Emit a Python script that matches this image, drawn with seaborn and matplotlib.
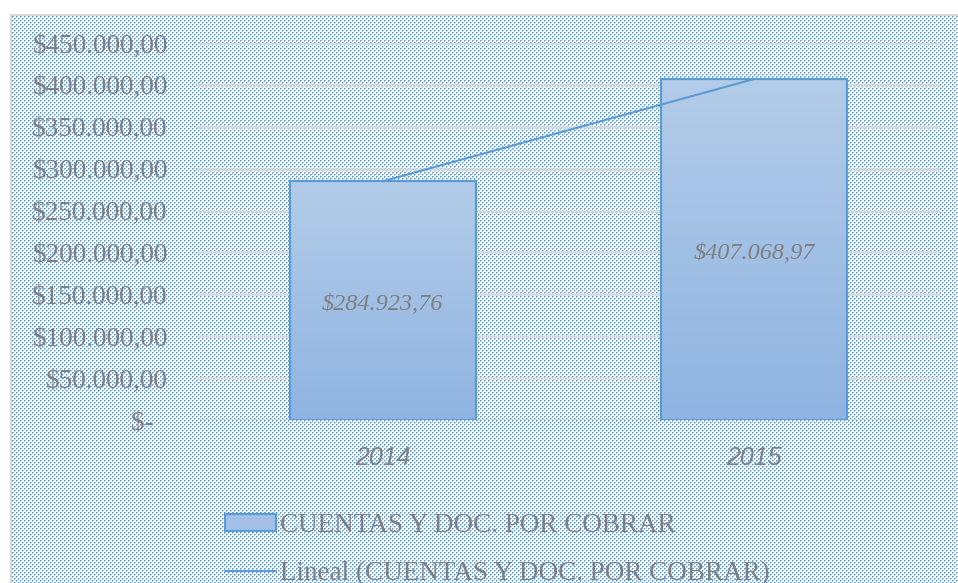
import numpy as np
import pandas as pd
import matplotlib
matplotlib.use('Agg')
import matplotlib.pyplot as plt
import seaborn as sns
from matplotlib.patches import Patch
from matplotlib.lines import Line2D
from matplotlib.colors import LinearSegmentedColormap

# datos
years = ['2014', '2015']
cuentas = [284923.76, 407068.97]
serie = 'CUENTAS Y DOC. POR COBRAR'
tendencia = 'Lineal (CUENTAS Y DOC. POR COBRAR)'
yticks = [0, 50000, 100000, 150000, 200000, 250000, 300000, 350000, 400000, 450000]

df = pd.DataFrame({'Año': years, 'Valor': cuentas})

sns.set_theme(style='white')
plt.rcParams['font.family'] = ['Liberation Serif', 'DejaVu Serif']

gris = '#7f7f7f'
azul_hex = '#5b9bd5'

W, H = 958, 583
fig = plt.figure(figsize=(W / 100, H / 100), dpi=100)
fig.patch.set_facecolor('white')

# fondo punteado (trama)
tile = np.ones((4, 4, 3))
azul = np.array([0x5b, 0x9b, 0xd5]) / 255
claro = np.array([0x9c, 0xc2, 0xe6]) / 255
tile[0, 0] = azul
tile[0, 1] = claro
tile[1, 0] = claro
tile[2, 2] = azul
tile[2, 3] = claro
tile[3, 2] = claro
fondo = np.tile(tile, ((H - 14) // 4 + 1, (W - 10) // 4 + 1, 1))[:H - 14, :W - 10]
fondo[0:2, :] = 0.85
fondo[:, 0:2] = 0.85
fig.figimage(fondo, xo=10, yo=0, zorder=0)

ax = fig.add_axes([197 / W, 1 - 420 / H, (940 - 197) / W, (420 - 43) / H])
ax.set_zorder(1)
ax.patch.set_alpha(0)

sns.barplot(data=df, x='Año', y='Valor', ax=ax, width=0.5,
            edgecolor=azul_hex, linewidth=1.6, zorder=2)

# degradado dentro de las barras
cmap = LinearSegmentedColormap.from_list('grad', ['#8fb4e1', '#b3cce9'])
grad = np.linspace(0, 1, 256).reshape(-1, 1)
for bar in ax.patches:
    bar.set_facecolor('none')
    x0, y0 = bar.get_x(), bar.get_y()
    im = ax.imshow(grad, extent=[x0, x0 + bar.get_width(), y0, y0 + bar.get_height()],
                   origin='lower', aspect='auto', cmap=cmap, zorder=1.5)
    im.set_clip_path(bar)

# linea de tendencia
sns.regplot(x=np.arange(len(cuentas)), y=cuentas, ax=ax, scatter=False, ci=None,
            truncate=True, line_kws=dict(color=azul_hex, lw=1.5, zorder=3))

ax.set_xlim(-0.5, 1.5)
ax.set_ylim(0, 450000)
ax.set_xlabel('')
ax.set_ylabel('')
ax.set_axisbelow(True)
ax.yaxis.grid(True, color='#d9d9d9', lw=1.8)
ax.xaxis.grid(False)
for s in ax.spines.values():
    s.set_visible(False)


def pesos(v):
    if v == 0:
        return '$-  '
    s = f'{v:,.2f}'.replace(',', '#').replace('.', ',').replace('#', '.')
    return '$' + s


ax.set_yticks(yticks)
ax.set_yticklabels([pesos(v) for v in yticks], fontsize=19.6, color=gris)
ax.set_xticks(range(len(years)))
ax.set_xticklabels(years, fontsize=18, color=gris, style='italic',
                   family=['Liberation Sans', 'DejaVu Sans'])
ax.tick_params(axis='y', length=0, pad=21)
ax.tick_params(axis='x', length=0, pad=18.5)

ax.bar_label(ax.containers[0], labels=[pesos(v) for v in cuentas], label_type='center',
             fontsize=17.5, style='italic', color=gris, padding=-3)

handles = [Patch(facecolor='#a3c1e6', edgecolor=azul_hex, lw=1.6),
           Line2D([], [], color=azul_hex, lw=1.5)]
leg = fig.legend(handles, [serie, tendencia], loc='upper left',
                 bbox_to_anchor=(225 / W, 1 - 513 / H), frameon=False,
                 fontsize=19.5, handlelength=1.9, handleheight=0.6, handletextpad=0.12,
                 labelspacing=0.85, borderpad=0, borderaxespad=0)
for t in leg.get_texts():
    t.set_color(gris)

fig.savefig('out.png', dpi=100)
